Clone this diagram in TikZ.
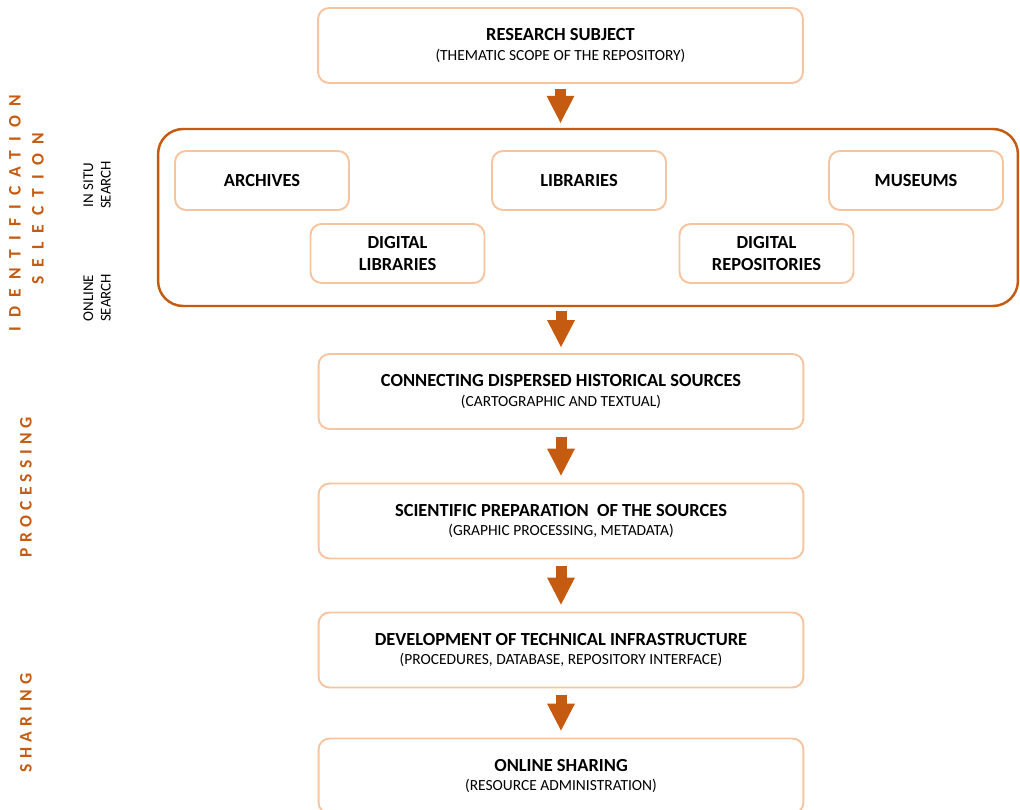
\documentclass[tikz,border=0pt]{standalone}
\usepackage{fontspec}
\setmainfont{Carlito}
\newfontfamily\spacedwide[LetterSpace=52]{Carlito}
\newfontfamily\spacednarrow[LetterSpace=30]{Carlito}
\usetikzlibrary{arrows.meta}
\definecolor{rust}{HTML}{C55A11}
\definecolor{peach}{HTML}{F5C4A1}
\newcommand{\subline}[1]{{\fontsize{8.8}{10}\selectfont #1}}

\begin{document}
\begin{tikzpicture}[x=0.02cm,y=-0.02cm]
    \tikzstyle{stage}=[rectangle,draw=peach,line width=1.1pt,rounded corners=0.22cm,minimum width=9.7cm,minimum height=1.5cm,align=center,font=\fontsize{10.5}{11.3}\selectfont]
    \tikzstyle{place}=[stage,minimum width=3.48cm,minimum height=1.18cm,font=\bfseries\fontsize{10.5}{12.5}\selectfont]
    \tikzstyle{group}=[rectangle,draw=rust,line width=1.4pt,rounded corners=0.5cm,minimum width=17.2cm,minimum height=3.54cm]
    \tikzstyle{phase}=[rotate=90,text=rust,font=\spacedwide\bfseries\fontsize{10}{11}\selectfont]
    \tikzstyle{phasenarrow}=[phase,font=\spacednarrow\bfseries\fontsize{10}{11}\selectfont]
    \tikzstyle{channel}=[rotate=90,align=center,font=\fontsize{8.5}{10}\selectfont]
    \tikzstyle{flow}=[rust,line width=0.22cm,-{Triangle[length=0.54cm,width=0.56cm,line width=0pt]},shorten <=0.14cm,shorten >=0.14cm]
    \clip (0,0) rectangle (1020,810);
    \node (subject)   at (560.5,45.5) [stage] {\textbf{RESEARCH SUBJECT}\\\subline{(THEMATIC SCOPE OF THE REPOSITORY)}};
    \node (search)    at (588,217.5)  [group] {};
    \node (archives)  at (262,180.5)  [place] {ARCHIVES};
    \node (libraries) at (579,180.5)  [place] {LIBRARIES};
    \node (museums)   at (916,180.5)  [place] {MUSEUMS};
    \node (diglib)    at (397.5,253.5) [place] {DIGITAL\\LIBRARIES};
    \node (digrepo)   at (766.5,253.5) [place] {DIGITAL\\REPOSITORIES};
    \node (connect)   at (561,391.5)  [stage] {\textbf{CONNECTING DISPERSED HISTORICAL SOURCES}\\\subline{(CARTOGRAPHIC AND TEXTUAL)}};
    \node (prepare)   at (561,521)    [stage] {\textbf{SCIENTIFIC PREPARATION\ \ OF THE SOURCES}\\\subline{(GRAPHIC PROCESSING, METADATA)}};
    \node (infra)     at (561,650)    [stage] {\textbf{DEVELOPMENT OF TECHNICAL INFRASTRUCTURE}\\\subline{(PROCEDURES, DATABASE, REPOSITORY INTERFACE)}};
    \node (share)     at (561,776)    [stage] {\textbf{ONLINE SHARING}\\\subline{(RESOURCE ADMINISTRATION)}};
    \node (identification) at (15,213) [phase] {IDENTIFICATION};
    \node (selection)  at (38,209)  [phase] {SELECTION};
    \node (processing) at (26,487)  [phasenarrow] {PROCESSING};
    \node (sharing)    at (26,723)  [phasenarrow] {SHARING};
    \node (insitu)     at (97,185)  [channel] {IN SITU\\SEARCH};
    \node (online)     at (97,298)  [channel] {ONLINE\\SEARCH};
    \draw [flow,shorten <=0.1cm,shorten >=0.1cm] (subject.south) -- (subject.south |- search.north);
    \draw [flow,shorten <=0.08cm,shorten >=0.12cm] (search.south -| connect.north) -- (connect.north);
    \draw [flow] (connect) -- (prepare);
    \draw [flow] (prepare) -- (infra);
    \draw [flow] (infra) -- (share);
\end{tikzpicture}
\end{document}
